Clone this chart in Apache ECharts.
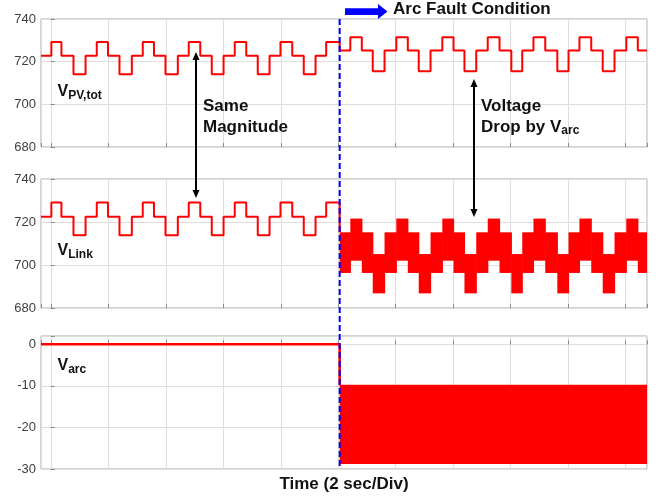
<!DOCTYPE html>
<html>
<head>
<meta charset="utf-8">
<script src="https://cdn.jsdelivr.net/npm/echarts@6/dist/echarts.min.js"></script>
<style>
html,body{margin:0;padding:0;background:#fff;}
#c{width:665px;height:497px;}
</style>
</head>
<body>
<div id="c"></div>
<script>
// ---- data (time in seconds, 2 s per division) ----
const xMin = -0.34, xMax = 20.74;
const faultTime = 10.05;

// breakpoints before the fault (each level holds from t[i] to t[i+1])
const tPre = [-0.34, 0.02, 0.37, 0.79, 1.21, 1.60, 1.99, 2.39, 2.82, 3.20, 3.59, 3.99, 4.42, 4.80,
              5.20, 5.60, 6.01, 6.40, 6.80, 7.20, 7.61, 7.99, 8.40, 8.80, 9.21, 9.58, 10.05];
// breakpoints after the fault
const tPost = [10.05, 10.42, 10.82, 11.20, 11.61, 12.02, 12.42, 12.80, 13.21, 13.62, 14.01, 14.39, 14.80, 15.20,
               15.61, 16.02, 16.40, 16.79, 17.20, 17.62, 18.01, 18.39, 18.80, 19.20, 19.61, 20.02, 20.42, 20.74];

const vPvPre = [722.8, 729.2, 722.8, 714.1, 722.8, 729.2, 722.8, 714.1, 722.8, 729.2, 722.8, 714.1, 722.8,
                729.2, 722.8, 714.1, 722.8, 729.2, 722.8, 714.1, 722.8, 729.2, 722.8, 714.1, 722.8, 729.2];
const vPvPost = [725.2, 731.4, 725.2, 715.5, 725.2, 731.4, 725.2, 715.5, 725.2, 731.4, 725.2, 715.5, 725.2, 731.4,
                 725.2, 715.5, 725.2, 731.4, 725.2, 715.5, 725.2, 731.4, 725.2, 715.5, 725.2, 731.4, 725.2];

const vLinkPre = [722.5, 729.1, 722.5, 713.8, 722.5, 729.1, 722.5, 713.8, 722.5, 729.1, 722.5, 713.8, 722.5,
                  729.1, 722.5, 713.8, 722.5, 729.1, 722.5, 713.8, 722.5, 729.1, 722.5, 713.8, 722.5, 729.1];
const vLinkPostHi = [715.2, 721.6, 715.2, 705.1, 715.2, 721.6, 715.2, 705.1, 715.2, 721.6, 715.2, 705.1, 715.2, 721.6,
                     715.2, 705.1, 715.2, 721.6, 715.2, 705.1, 715.2, 721.6, 715.2, 705.1, 715.2, 721.6, 715.2];
const vLinkPostLo = [696.3, 702.0, 696.3, 686.8, 696.3, 702.0, 696.3, 686.8, 696.3, 702.0, 696.3, 686.8, 696.3, 702.0,
                     696.3, 686.8, 696.3, 702.0, 696.3, 686.8, 696.3, 702.0, 696.3, 686.8, 696.3, 702.0, 696.3];

const tArc = [-0.34, 10.05, 20.74];
const vArcPre = [0];
const vArcPostHi = [-9.7];
const vArcPostLo = [-28.8];

const yTicksTop = [680, 700, 720, 740];
const yTicksArc = [-30, -20, -10, 0];

// ---- helpers ----
function stepPoints(times, levels) {
  const pts = [];
  for (let i = 0; i < levels.length; i++) pts.push([times[i], levels[i]]);
  pts.push([times[levels.length], levels[levels.length - 1]]);
  return pts;
}
function bandItems(times, lo, hi) {
  const out = [];
  for (let i = 0; i < lo.length; i++) out.push([times[i], times[i + 1], lo[i], hi[i]]);
  return out;
}

const pvData = stepPoints(tPre, vPvPre).slice(0, -1).concat(stepPoints(tPost, vPvPost));
const linkLine = stepPoints(tPre, vLinkPre).slice(0, -1).concat([[faultTime, vLinkPostHi[0]]]);
const linkBand = bandItems(tPost, vLinkPostLo, vLinkPostHi);
const arcLine = [[tArc[0], vArcPre[0]], [tArc[1], vArcPostHi[0]]];
const arcBand = bandItems(tArc.slice(1), vArcPostLo, vArcPostHi);

const FONT = "'Liberation Sans', Arial, sans-serif";
const RED = '#ff0000';

function bandRender(params, api) {
  const p0 = api.coord([api.value(0), api.value(3)]);
  const p1 = api.coord([api.value(1), api.value(2)]);
  return {
    type: 'rect',
    shape: { x: p0[0], y: p0[1], width: p1[0] - p0[0] + 0.6, height: p1[1] - p0[1] },
    style: { fill: RED }
  };
}

const grids = [
  { left: 41, right: 18, top: 19, height: 128 },
  { left: 41, right: 18, top: 179, height: 129 },
  { left: 41, right: 18, top: 336, height: 133 }
];

function xAxisFor(i) {
  const ax = {
    gridIndex: i, type: 'value', min: xMin, max: xMax,
    splitNumber: 10, minInterval: 2, maxInterval: 2,
    axisLabel: { show: false },
    axisLine: { show: false },
    axisTick: { show: true, inside: true, length: 4, lineStyle: { color: '#8a8a8a' } },
    splitLine: { show: true, lineStyle: { color: '#dedede', width: 1 } }
  };
  if (i === 2) {
    ax.name = 'Time (2 sec/Div)';
    ax.nameLocation = 'middle';
    ax.nameGap = 7;
    ax.nameTextStyle = { fontSize: 17, fontWeight: 'bold', color: '#111', fontFamily: FONT };
  }
  return ax;
}
function yAxisFor(i, ticks) {
  const interval = ticks[1] - ticks[0];
  return {
    gridIndex: i, type: 'value', min: ticks[0], max: (i === 2 ? 2 : ticks[ticks.length - 1]), interval: interval,
    axisLabel: {
      fontSize: 13, color: '#404040', fontFamily: FONT, margin: 5,
      formatter: function (v) { return ticks.indexOf(v) >= 0 ? String(v) : ''; }
    },
    axisLine: { show: false },
    axisTick: { show: true, inside: true, length: 4, lineStyle: { color: '#8a8a8a' } },
    splitLine: { show: true, lineStyle: { color: '#dedede', width: 1 } }
  };
}

const chart = echarts.init(document.getElementById('c'), null, { renderer: 'canvas' });
chart.setOption({
  animation: false,
  backgroundColor: '#ffffff',
  grid: grids.map(g => Object.assign({ show: true, borderColor: '#a8a8a8', borderWidth: 1, backgroundColor: 'transparent', containLabel: false }, g)),
  xAxis: [xAxisFor(0), xAxisFor(1), xAxisFor(2)],
  yAxis: [yAxisFor(0, yTicksTop), yAxisFor(1, yTicksTop), yAxisFor(2, yTicksArc)],
  series: [
    { name: 'V_PV,tot', type: 'line', xAxisIndex: 0, yAxisIndex: 0, data: pvData, step: 'end',
      showSymbol: false, lineStyle: { color: RED, width: 2 }, clip: true },
    { name: 'V_Link', type: 'line', xAxisIndex: 1, yAxisIndex: 1, data: linkLine, step: 'end',
      showSymbol: false, lineStyle: { color: RED, width: 2 }, clip: true },
    { name: 'V_Link band', type: 'custom', xAxisIndex: 1, yAxisIndex: 1, data: linkBand,
      encode: { x: [0, 1], y: [2, 3] }, renderItem: bandRender, clip: true },
    { name: 'V_arc', type: 'line', xAxisIndex: 2, yAxisIndex: 2, data: arcLine, step: 'end',
      showSymbol: false, lineStyle: { color: RED, width: 2.5 }, clip: true },
    { name: 'V_arc band', type: 'custom', xAxisIndex: 2, yAxisIndex: 2, data: arcBand,
      encode: { x: [0, 1], y: [2, 3] }, renderItem: bandRender, clip: true }
  ]
});

// ---- annotations ----
const fx = chart.convertToPixel({ xAxisIndex: 0 }, faultTime);
const fyTop = chart.convertToPixel({ yAxisIndex: 0 }, 740);
const fyBot = chart.convertToPixel({ yAxisIndex: 2 }, -30);

function arrowV(x, y1, y2) {
  // double-headed vertical arrow, y1 top tip, y2 bottom tip
  return [
    { type: 'line', z: 100, shape: { x1: x, y1: y1 + 5, x2: x, y2: y2 - 5 }, style: { stroke: '#000', lineWidth: 2 } },
    { type: 'polygon', z: 100, shape: { points: [[x, y1], [x - 3.5, y1 + 8], [x + 3.5, y1 + 8]] }, style: { fill: '#000' } },
    { type: 'polygon', z: 100, shape: { points: [[x, y2], [x - 3.5, y2 - 8], [x + 3.5, y2 - 8]] }, style: { fill: '#000' } }
  ];
}
function label(x, y, main, sub, size, subSize) {
  return {
    type: 'text', z: 100, x: x, y: y,
    style: {
      text: '{v|' + main + '}' + (sub ? '{s|' + sub + '}' : ''),
      verticalAlign: 'middle', align: 'left',
      rich: {
        v: { fontSize: size, fontWeight: 'bold', fontFamily: FONT, fill: '#111', lineHeight: 20 },
        s: { fontSize: subSize, fontWeight: 'bold', fontFamily: FONT, fill: '#111', lineHeight: 12, verticalAlign: 'bottom' }
      }
    }
  };
}
function plain(x, y, txt, size) {
  return { type: 'text', z: 100, x: x, y: y,
    style: { text: txt, fontSize: size, fontWeight: 'bold', fontFamily: FONT, fill: '#111', verticalAlign: 'middle', align: 'left' } };
}

const graphics = [
  { type: 'line', z: 120, shape: { x1: fx, y1: fyTop, x2: fx, y2: fyBot },
    style: { stroke: '#0000ff', lineWidth: 2, lineDash: [6, 3] } },
  { type: 'polygon', z: 100, shape: { points: [[345, 8.3], [378, 8.3], [378, 4], [387.5, 11.6], [378, 19], [378, 15], [345, 15]] },
    style: { fill: '#0000ff' } },
  plain(393, 9.5, 'Arc Fault Condition', 17),
  label(57.5, 91.5, 'V', 'PV,tot', 16, 12),
  label(57.5, 251, 'V', 'Link', 16, 12),
  label(57.5, 366, 'V', 'arc', 16, 12),
  plain(203, 106.5, 'Same', 17),
  plain(203, 127, 'Magnitude', 17),
  plain(481, 106.5, 'Voltage', 17),
  label(481, 127, 'Drop by V', 'arc', 17, 12)
].concat(arrowV(196, 52, 198), arrowV(474, 79, 217));

chart.setOption({ graphic: { elements: graphics } });
</script>
</body>
</html>
